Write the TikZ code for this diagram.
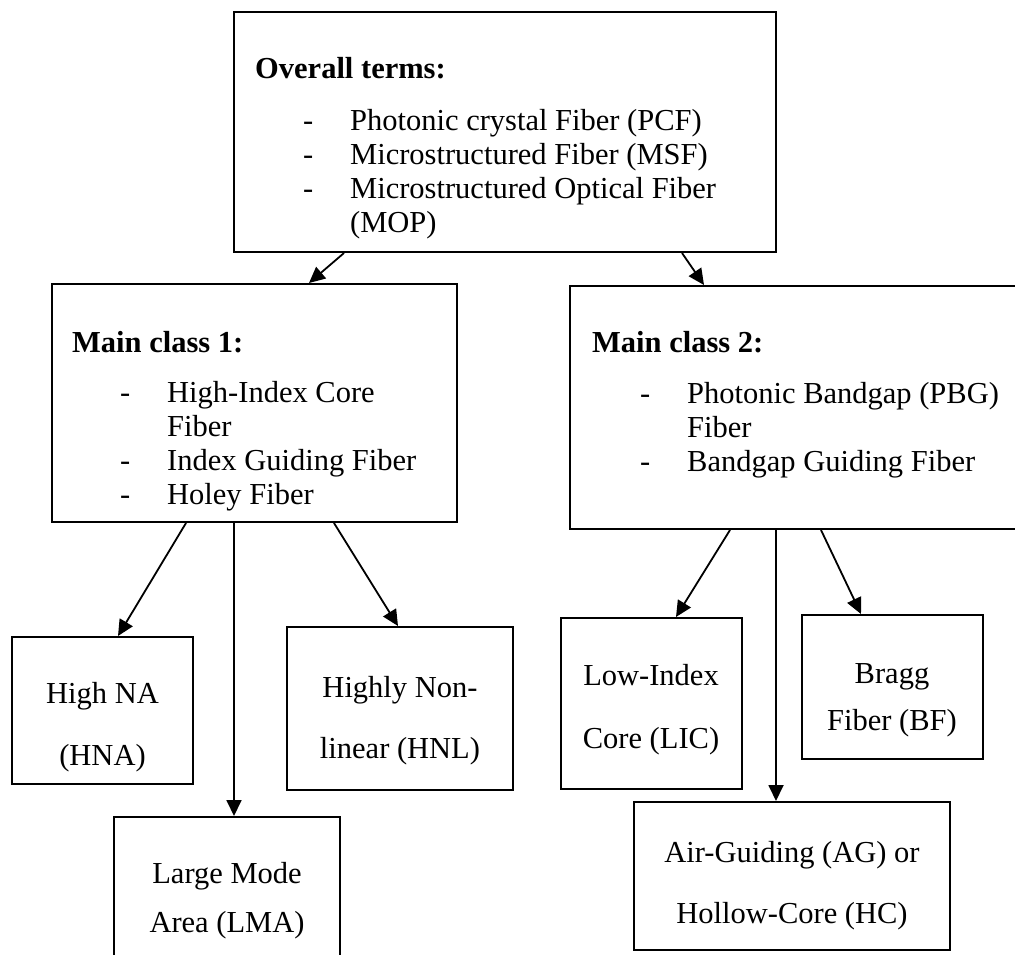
\documentclass[tikz,border=0pt]{standalone}
\usepackage{fontspec}
\setmainfont{Liberation Serif}
\usetikzlibrary{arrows.meta,fit}
\begin{document}
\begin{tikzpicture}[x=1pt,y=-1pt,
  box/.style={draw, line width=2pt, inner sep=0pt},
  link/.style={line width=1.8pt, -{Triangle[length=16pt,width=15pt]}},
  txt/.style={anchor=base west, inner sep=0pt, font=\fontsize{30.5}{34}\selectfont},
  head/.style={anchor=base west, inner sep=0pt, font=\fontsize{30.5}{34}\selectfont\bfseries},
  ctxt/.style={anchor=base, inner sep=0pt, font=\fontsize{30.5}{34}\selectfont}]
\useasboundingbox (0,0) rectangle (1015,954);
\clip (0,0) rectangle (1015,954);
\fill[white] (0,0) rectangle (1015,954);

% boxes
\node[box, fit={(234,12) (776,252)}] (top) {};
\node[box, fit={(52,284) (457,522)}] (mc1) {};
\node[box, fit={(570,286) (1030,529)}] (mc2) {};
\node[box, fit={(12,637) (193,784)}] (hna) {};
\node[box, fit={(287,627) (513,790)}] (hnl) {};
\node[box, fit={(114,817) (340,975)}] (lma) {};
\node[box, fit={(561,618) (742,789)}] (lic) {};
\node[box, fit={(802,615) (983,759)}] (bf) {};
\node[box, fit={(634,802) (950,950)}] (ag) {};

% overall terms
\node[head] (tophd) at (255,78) {Overall terms:};
\node[txt] (topd1) at (303,130) {-};
\node[txt] (topt1) at (350,130) {Photonic crystal Fiber (PCF)};
\node[txt] (topd2) at (303,164) {-};
\node[txt] (topt2) at (350,164) {Microstructured Fiber (MSF)};
\node[txt] (topd3) at (303,198) {-};
\node[txt] (topt3) at (350,198) {Microstructured Optical Fiber};
\node[txt] (topt4) at (350,232) {(MOP)};

% main class 1
\node[head] (mc1hd) at (72,352) {Main class 1:};
\node[txt] (mc1d1) at (120,402) {-};
\node[txt] (mc1t1) at (167,402) {High-Index Core};
\node[txt] (mc1t2) at (167,436) {Fiber};
\node[txt] (mc1d3) at (120,470) {-};
\node[txt] (mc1t3) at (167,470) {Index Guiding Fiber};
\node[txt] (mc1d4) at (120,504) {-};
\node[txt] (mc1t4) at (167,504) {Holey Fiber};

% main class 2
\node[head] (mc2hd) at (592,352) {Main class 2:};
\node[txt] (mc2d1) at (640,403) {-};
\node[txt] (mc2t1) at (687,403) {Photonic Bandgap (PBG)};
\node[txt] (mc2t2) at (687,437) {Fiber};
\node[txt] (mc2d3) at (640,471) {-};
\node[txt] (mc2t3) at (687,471) {Bandgap Guiding Fiber};

% sub classes
\node[ctxt] (hna1) at (102.5,703) {High NA};
\node[ctxt] (hna2) at (102.5,765) {(HNA)};
\node[ctxt] (hnl1) at (400,697) {Highly Non-};
\node[ctxt] (hnl2) at (400,758) {linear (HNL)};
\node[ctxt] (lma1) at (227,883) {Large Mode};
\node[ctxt] (lma2) at (227,932) {Area (LMA)};
\node[ctxt] (lic1) at (651,685) {Low-Index};
\node[ctxt] (lic2) at (651,748) {Core (LIC)};
\node[ctxt] (bf1) at (892,683) {Bragg};
\node[ctxt] (bf2) at (892,730) {Fiber (BF)};
\node[ctxt] (ag1) at (792,862) {Air-Guiding (AG) or};
\node[ctxt] (ag2) at (792,923) {Hollow-Core (HC)};

% connectors
\draw[link] ([xshift=111pt]top.south west) -- ([xshift=258pt]mc1.north west);
\draw[link] ([xshift=449pt]top.south west) -- ([xshift=135pt]mc2.north west);
\draw[link] ([xshift=135pt]mc1.south west) -- ([xshift=107pt]hna.north west);
\draw[link] ([xshift=183pt]mc1.south west) -- ([xshift=121pt]lma.north west);
\draw[link] ([xshift=283pt]mc1.south west) -- ([xshift=112pt]hnl.north west);
\draw[link] ([xshift=161pt]mc2.south west) -- ([xshift=116pt]lic.north west);
\draw[link] ([xshift=207pt]mc2.south west) -- ([xshift=143pt]ag.north west);
\draw[link] ([xshift=252pt]mc2.south west) -- ([xshift=60pt]bf.north west);
\end{tikzpicture}
\end{document}
